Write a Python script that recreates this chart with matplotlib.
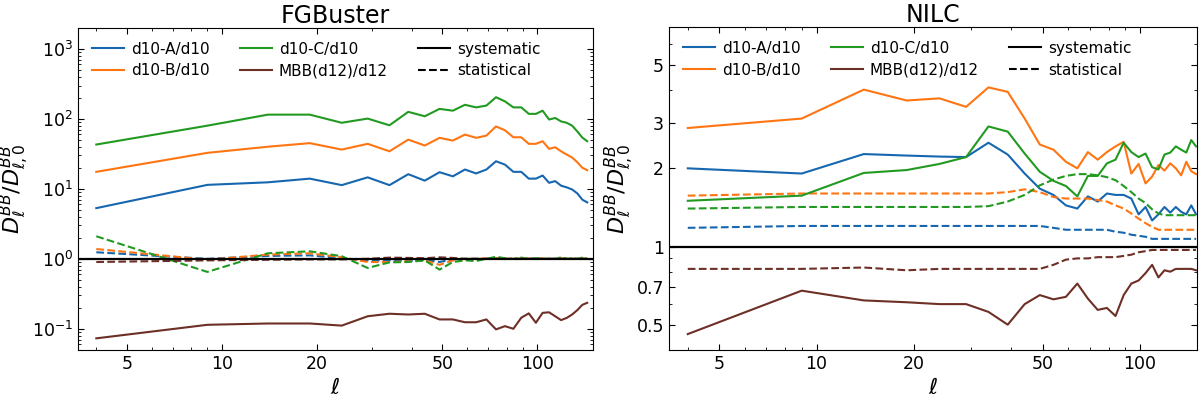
import matplotlib
matplotlib.use("Agg")
import matplotlib.pyplot as plt
from matplotlib.lines import Line2D
from matplotlib.ticker import FixedLocator, FixedFormatter, LogLocator, NullFormatter

# multipole bins
ell_fg = [4 + 5 * k for k in range(29)]    # 4 .. 144
ell_nilc = [4 + 5 * k for k in range(30)]  # 4 .. 149

# FGBuster, systematic (solid)
fg_A = [5.3, 11.4, 12.4, 14.0, 11.3, 14.6, 11.3, 16.2, 13.1, 17.3, 15.1, 18.9, 16.6, 18.9, 24.8,
        22.2, 17.5, 17.5, 14.0, 14.0, 15.5, 12.2, 12.9, 11.1, 10.5, 9.8, 8.6, 7.0, 6.4]
fg_B = [17.5, 32.7, 40.0, 45.0, 36.4, 44.0, 34.4, 50.6, 41.6, 53.6, 49.0, 59.7, 53.6, 57.7, 78.0,
        68.7, 54.6, 54.6, 44.0, 44.0, 47.9, 37.3, 39.3, 34.4, 30.9, 28.0, 24.0, 20.0, 18.5]
fg_C = [43, 80, 115, 115, 88, 101, 81, 126, 109, 139, 131, 159, 146, 155, 204,
        178, 146, 146, 118, 118, 131, 98, 103, 92, 88, 80, 66, 54, 48]
fg_MBB = [0.073, 0.114, 0.119, 0.119, 0.111, 0.151, 0.164, 0.160, 0.164, 0.136, 0.136, 0.124, 0.124,
          0.136, 0.098, 0.109, 0.100, 0.144, 0.166, 0.122, 0.169, 0.172, 0.151, 0.133, 0.143, 0.160,
          0.185, 0.220, 0.235]

# FGBuster, statistical (dashed)
fg_A_stat = [1.24, 1.00, 1.10, 1.12, 1.02, 0.95, 0.95, 0.93, 0.97, 0.90, 0.98, 1.00, 1.00, 1.00, 1.01,
             1.00, 1.00, 1.00, 1.00, 1.01, 1.00, 1.00, 1.00, 1.00, 1.01, 1.00, 1.00, 1.00, 1.00]
fg_B_stat = [1.38, 0.97, 1.15, 1.20, 1.05, 0.90, 0.90, 0.92, 0.95, 0.82, 0.95, 1.00, 1.00, 1.01, 1.02,
             1.00, 1.00, 1.01, 1.00, 1.00, 1.01, 1.00, 1.00, 1.02, 1.00, 1.00, 1.00, 1.02, 1.00]
fg_C_stat = [2.10, 0.65, 1.20, 1.28, 1.09, 0.74, 0.89, 0.90, 0.95, 0.70, 0.90, 0.95, 0.93, 1.00, 1.07,
             1.02, 1.00, 1.04, 1.00, 1.02, 1.00, 1.01, 1.00, 1.05, 1.00, 1.02, 1.00, 1.04, 1.00]
fg_MBB_stat = [0.90, 0.95, 0.97, 0.98, 0.98, 1.00, 1.04, 1.03, 1.02, 1.05, 1.03, 1.00, 1.00, 1.00, 1.00,
               1.00, 1.00, 1.00, 1.00, 1.00, 1.00, 1.00, 1.00, 1.00, 1.00, 1.00, 1.00, 1.00, 1.00]

# NILC, systematic (solid)
nilc_A = [2.00, 1.91, 2.27, 2.24, 2.22, 2.21, 2.51, 2.26, 1.91, 1.67, 1.58, 1.44, 1.40, 1.56, 1.49,
          1.60, 1.58, 1.58, 1.53, 1.33, 1.42, 1.26, 1.33, 1.42, 1.35, 1.42, 1.36, 1.33, 1.44, 1.33]
nilc_B = [2.86, 3.11, 4.02, 3.65, 3.72, 3.45, 4.10, 3.94, 3.11, 2.47, 2.36, 2.12, 2.00, 2.31, 2.16,
          2.31, 2.43, 2.53, 1.91, 2.08, 1.75, 1.86, 2.06, 1.96, 2.09, 2.00, 1.88, 2.12, 1.95, 1.90]
nilc_C = [1.50, 1.57, 1.92, 1.97, 2.08, 2.21, 2.90, 2.77, 2.28, 1.94, 1.79, 1.71, 1.56, 1.87, 1.87,
          2.09, 2.16, 2.51, 2.31, 2.21, 2.28, 2.02, 1.98, 2.26, 2.30, 2.43, 2.36, 2.30, 2.57, 2.43]
nilc_MBB = [0.46, 0.676, 0.62, 0.61, 0.60, 0.60, 0.56, 0.50, 0.60, 0.65, 0.626, 0.64, 0.72, 0.63, 0.57,
            0.58, 0.54, 0.65, 0.72, 0.74, 0.79, 0.85, 0.76, 0.81, 0.80, 0.82, 0.82, 0.82, 0.82, 0.81]

# NILC, statistical (dashed)
nilc_A_stat = [1.18, 1.20, 1.20, 1.20, 1.20, 1.20, 1.20, 1.20, 1.20, 1.20, 1.18, 1.16, 1.16, 1.16, 1.16,
               1.16, 1.14, 1.13, 1.11, 1.10, 1.09, 1.07, 1.07, 1.07, 1.07, 1.07, 1.07, 1.07, 1.07, 1.07]
nilc_B_stat = [1.57, 1.60, 1.60, 1.60, 1.60, 1.60, 1.60, 1.62, 1.66, 1.62, 1.55, 1.53, 1.53, 1.53, 1.51,
               1.49, 1.44, 1.40, 1.34, 1.28, 1.23, 1.19, 1.16, 1.16, 1.16, 1.16, 1.16, 1.16, 1.16, 1.16]
nilc_C_stat = [1.40, 1.42, 1.42, 1.42, 1.42, 1.42, 1.43, 1.49, 1.58, 1.72, 1.81, 1.87, 1.90, 1.90, 1.88,
               1.85, 1.80, 1.71, 1.62, 1.53, 1.47, 1.39, 1.34, 1.32, 1.32, 1.32, 1.32, 1.32, 1.32, 1.32]
nilc_MBB_stat = [0.82, 0.82, 0.83, 0.81, 0.82, 0.82, 0.82, 0.82, 0.82, 0.82, 0.85, 0.89, 0.90, 0.90, 0.91,
                 0.91, 0.91, 0.92, 0.93, 0.95, 0.96, 0.97, 0.97, 0.97, 0.97, 0.97, 0.97, 0.97, 0.97, 0.97]

labels = ["d10-A/d10", "d10-B/d10", "d10-C/d10", "MBB(d12)/d12"]
colors = ["#1767b0", "#ff7512", "#229a22", "#6e2f26"]

panels = [
    ("FGBuster", ell_fg, [fg_A, fg_B, fg_C, fg_MBB], [fg_A_stat, fg_B_stat, fg_C_stat, fg_MBB_stat]),
    ("NILC", ell_nilc, [nilc_A, nilc_B, nilc_C, nilc_MBB],
     [nilc_A_stat, nilc_B_stat, nilc_C_stat, nilc_MBB_stat]),
]

fig = plt.figure(figsize=(12, 3.98), dpi=100)
axs = [fig.add_axes([0.065, 0.121, 0.429, 0.809]),
       fig.add_axes([0.5575, 0.121, 0.44, 0.811])]

for ax, (title, ell, sys_list, stat_list) in zip(axs, panels):
    for s, st, c in zip(sys_list, stat_list, colors):
        ax.plot(ell, s, color=c, lw=1.5)
        ax.plot(ell, st, color=c, lw=1.5, ls="--")
    ax.axhline(1, color="black", lw=1.6)
    ax.set_xscale("log")
    ax.set_yscale("log")
    ax.set_xlim(3.5, 150)
    ax.set_title(title, fontsize=17, pad=3)
    ax.set_xlabel(r"$\ell$", fontsize=16)
    ax.set_ylabel(r"$D_\ell^{BB}/D_{\ell,0}^{BB}$", fontsize=16, labelpad=0)
    ax.xaxis.set_major_locator(FixedLocator([5, 10, 20, 50, 100]))
    ax.xaxis.set_major_formatter(FixedFormatter(["5", "10", "20", "50", "100"]))
    ax.xaxis.set_minor_locator(LogLocator(base=10, subs=range(2, 10)))
    ax.xaxis.set_minor_formatter(NullFormatter())
    ax.tick_params(which="both", direction="in", top=True, right=True, labelsize=12.5)
    ax.tick_params(which="major", length=4)
    ax.tick_params(which="minor", length=2)

    handles = [Line2D([], [], color=c, lw=1.5) for c in colors]
    handles += [Line2D([], [], color="black", lw=1.5), Line2D([], [], color="black", lw=1.5, ls="--")]
    hl = labels + ["systematic", "statistical"]
    ax.legend(handles, hl, loc="upper left", ncol=3, frameon=False, fontsize=11,
              columnspacing=2.0, handlelength=2.1, handletextpad=0.45,
              borderaxespad=0.5, labelspacing=0.45)

axs[0].set_ylim(0.05, 2000)
axs[0].yaxis.set_major_locator(LogLocator(base=10, numticks=10))
axs[0].yaxis.set_minor_locator(LogLocator(base=10, subs=range(2, 10), numticks=20))
axs[0].yaxis.set_minor_formatter(NullFormatter())

axs[1].set_ylim(0.4, 7)
axs[1].yaxis.set_major_locator(FixedLocator([0.5, 0.7, 1, 2, 3, 5]))
axs[1].yaxis.set_major_formatter(FixedFormatter(["0.5", "0.7", "1", "2", "3", "5"]))
axs[1].yaxis.set_minor_locator(FixedLocator([0.4, 0.6, 0.8, 0.9, 4, 6, 7]))
axs[1].yaxis.set_minor_formatter(NullFormatter())

fig.savefig("out.png", dpi=100)
